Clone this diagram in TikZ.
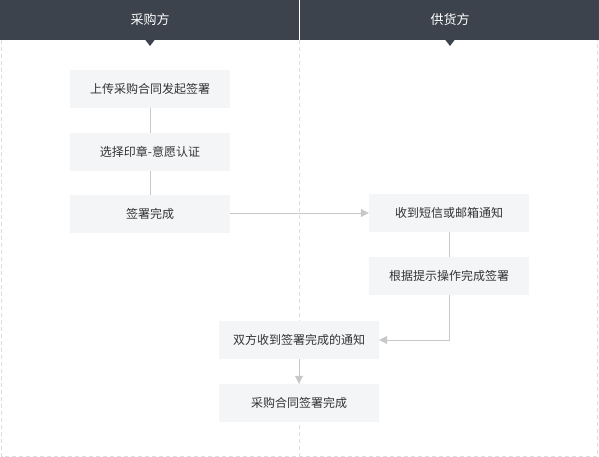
\documentclass[tikz,border=0pt]{standalone}
\usepackage{fontspec}
\setmainfont{Noto Sans CJK SC}
\usetikzlibrary{arrows.meta}
\definecolor{hdr}{RGB}{61,67,77}
\definecolor{boxfill}{RGB}{244,245,247}
\definecolor{conn}{RGB}{200,200,200}
\definecolor{dash}{RGB}{221,221,221}
\definecolor{txt}{RGB}{51,51,51}
\tikzset{
  stepbox/.style={rectangle, fill=boxfill, minimum width=160pt, minimum height=38pt, inner sep=0pt, text=txt, font=\fontsize{12pt}{14pt}\selectfont},
  hdrtext/.style={text=white, font=\fontsize{13pt}{15pt}\selectfont, inner sep=0pt},
  connline/.style={draw=conn, line width=1pt},
  connarrow/.style={connline, -{Triangle[length=8pt,width=8pt]}},
  lanedash/.style={draw=dash, line width=1pt, dash pattern=on 4pt off 3pt}
}
\begin{document}
\begin{tikzpicture}[x=1pt,y=-1pt]
\useasboundingbox (0,0) rectangle (599,457);
% lane dashed borders
\draw[lanedash] (1.5,40) -- (1.5,456.5) -- (597.5,456.5) -- (597.5,40);
\draw[lanedash] (299.5,40) -- (299.5,456.5);
% header
\fill[hdr] (0,0) rectangle (599,40);
\draw[white, line width=1pt] (299.5,0) -- (299.5,40);
\fill[hdr] (145,39.5) -- (155,39.5) -- (150,46) -- cycle;
\fill[hdr] (445,39.5) -- (455,39.5) -- (450,46) -- cycle;
\node[hdrtext] (h1) at (150,20) {采购方};
\node[hdrtext] (h2) at (450,20) {供货方};
% steps
\node[stepbox] (b1) at (150,89) {上传采购合同发起签署};
\node[stepbox] (b2) at (150,152) {选择印章-意愿认证};
\node[stepbox] (b3) at (150,214) {签署完成};
\node[stepbox] (b4) at (449,213) {收到短信或邮箱通知};
\node[stepbox] (b5) at (449,276) {根据提示操作完成签署};
\node[stepbox] (b6) at (299,340) {双方收到签署完成的通知};
\node[stepbox] (b7) at (299,403) {采购合同签署完成};
% connectors
\draw[connline] (b1.south) -- (b2.north);
\draw[connline] (b2.south) -- (b3.north);
\draw[connarrow] (b3.east |- b4.west) -- (b4.west);
\draw[connline] (b4.south) -- (b5.north);
\draw[connarrow] (b5.south) |- (b6.east);
\draw[connarrow] (b6.south) -- (b7.north);
\end{tikzpicture}
\end{document}
